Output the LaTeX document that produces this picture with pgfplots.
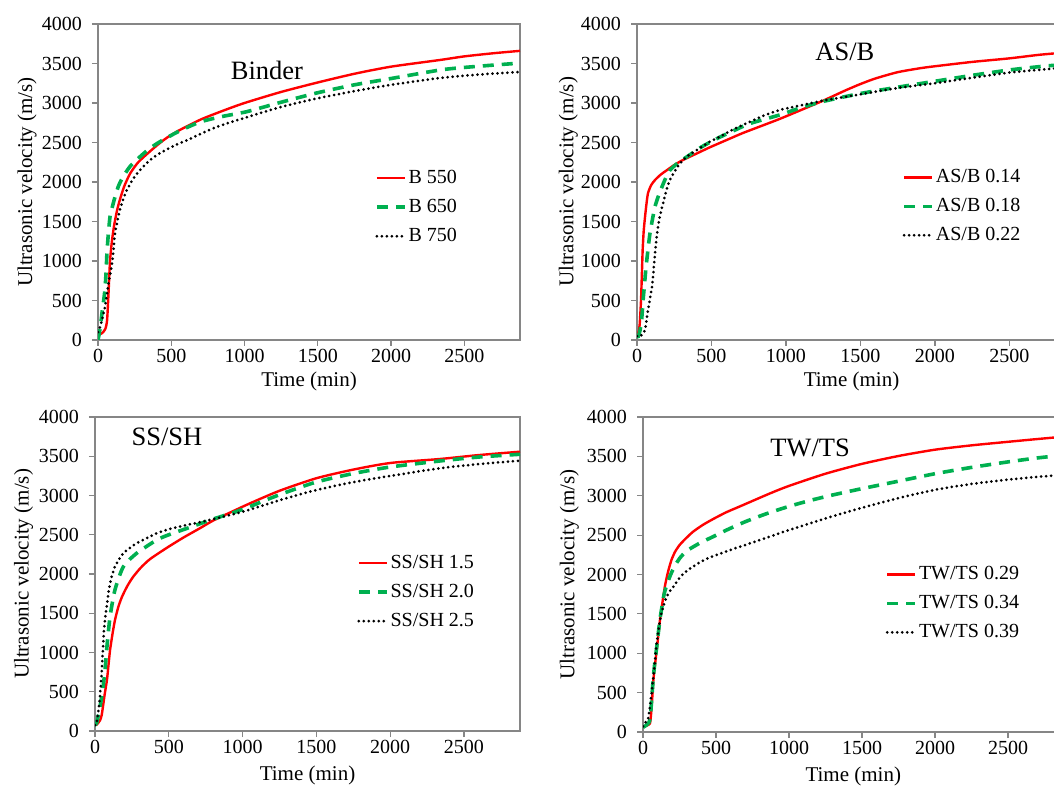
\documentclass[border=0pt]{standalone}
\usepackage{pgfplots}
\pgfplotsset{compat=1.18}
\usepackage{fontspec}
\setmainfont{Liberation Serif}
\definecolor{exred}{RGB}{255,0,0}
\definecolor{exgreen}{RGB}{0,176,80}
\definecolor{axgray}{RGB}{134,134,134}
\newcommand\fs{\fontsize{20}{24}\selectfont}
\newcommand\fl{\fontsize{21}{25}\selectfont}
\newcommand\ft{\fontsize{26.5}{30}\selectfont}
\pgfplotsset{
 panel/.style={
  scale only axis, height=316pt, xmin=0, xmax=2880, ymin=0, ymax=4000,
  xtick={0,500,...,2500}, ytick={0,500,...,4000},
  axis line style={draw=axgray, line width=1.3pt},
  every tick/.style={draw=axgray, line width=1.2pt},
  tick align=outside, major tick length=6pt, tick pos=left,
  tick label style={font=\fs},
  xticklabel={\pgfmathprintnumber[assume math mode=true,1000 sep={}]{\tick}},
  yticklabel={\pgfmathprintnumber[assume math mode=true,1000 sep={}]{\tick}},
  yticklabel style={anchor=east, inner sep=0pt, xshift=-10pt},
  label style={font=\fl},
  /pgf/number format/assume math mode=true,
  /pgf/number format/1000 sep={},
  xlabel={Time (min)}, ylabel={Ultrasonic velocity (m/s)},
  legend cell align=left,
  legend style={draw=none, fill=none, font=\fs, inner sep=0pt, row sep=9pt,
     anchor=north west,
     nodes={inner ysep=0pt, inner xsep=2pt, text height=15pt, text depth=5pt}},
  legend image code/.code={\draw[##1] (0pt,0pt) -- (28pt,0pt);},
 },
 r/.style={color=exred, line width=2.4pt, line join=round, smooth, tension=0.4},
 g/.style={color=exgreen, line width=3.6pt, dash pattern=on 11pt off 8pt, smooth, tension=0.4},
 k/.style={color=black, line width=3pt, line cap=round, dash pattern=on 0pt off 5pt, smooth, tension=0.4},
}
\begin{document}
\begin{tikzpicture}
\useasboundingbox (0pt,0pt) rectangle (1054pt,787pt);
% ---------------- Panel 1: Binder
\begin{axis}[panel, at={(98pt,447pt)}, width=422pt,
  xlabel style={at={(axis description cs:0.5,-0.13)}, anchor=center},
  ylabel style={at={(axis description cs:-0.168,0.5)}, anchor=center},
  legend style={at={(0.656,0.544)}}]
\addplot[r] coordinates {(10,70) (30,90) (50,140) (62,250) (72,600) (82,1000) (95,1250) (110,1450) (130,1640) (150,1780) (180,1950) (220,2110) (270,2240) (320,2330) (400,2460) (470,2560) (550,2650) (700,2790) (850,2900) (1000,3000) (1250,3140) (1500,3260) (1750,3370) (2000,3460) (2336,3545) (2500,3590) (2700,3630) (2880,3660)};
\addlegendentry{B 550}
\addplot[g] coordinates {(0,0) (15,150) (27,340) (40,520) (48,650) (55,850) (61,1100) (70,1330) (82,1560) (100,1700) (116,1810) (140,1950) (171,2065) (220,2200) (287,2320) (350,2420) (423,2510) (550,2640) (697,2760) (850,2830) (1015,2890) (1250,3010) (1500,3130) (1750,3230) (2000,3310) (2336,3418) (2500,3450) (2700,3480) (2880,3505)};
\addlegendentry{B 650}
\addplot[k] coordinates {(0,100) (15,170) (27,250) (48,420) (68,670) (82,820) (96,975) (106,1150) (116,1350) (132,1500) (150,1650) (175,1800) (198,1900) (240,2040) (287,2150) (350,2270) (423,2365) (520,2460) (608,2530) (800,2690) (1015,2820) (1250,2950) (1500,3060) (1750,3150) (2000,3230) (2336,3317) (2600,3360) (2880,3393)};
\addlegendentry{B 750}
\node[font=\ft] at (axis cs:1153,3418) {Binder};
\end{axis}
% ---------------- Panel 2: AS/B
\begin{axis}[panel, at={(637pt,447pt)}, width=429pt,
  xlabel style={at={(axis description cs:0.5,-0.13)}, anchor=center},
  ylabel style={at={(axis description cs:-0.160,0.5)}, anchor=center},
  legend style={at={(0.618,0.547)}}]
\addplot[r] coordinates {(0,70) (9,89) (18,200) (27,506) (33,850) (38,1140) (45,1380) (54,1560) (64,1730) (74,1860) (95,1960) (121,2025) (160,2095) (201,2150) (250,2215) (310,2280) (400,2360) (490,2440) (600,2530) (711,2620) (850,2720) (960,2800) (1100,2910) (1250,3030) (1400,3160) (1500,3240) (1600,3310) (1750,3390) (1900,3440) (2000,3465) (2250,3520) (2500,3565) (2700,3610) (2880,3640)};
\addlegendentry{AS/B 0.14}
\addplot[g] coordinates {(0,40) (9,45) (20,120) (31,253) (41,506) (51,720) (61,928) (74,1150) (87,1350) (104,1530) (121,1690) (145,1830) (168,1940) (195,2060) (221,2150) (280,2250) (336,2320) (430,2440) (537,2550) (650,2650) (758,2740) (960,2850) (1100,2940) (1250,3020) (1500,3120) (1750,3200) (2000,3275) (2250,3350) (2500,3418) (2700,3460) (2880,3490)};
\addlegendentry{AS/B 0.18}
\addplot[k] coordinates {(0,50) (15,40) (30,60) (54,127) (64,250) (74,380) (88,530) (101,675) (111,880) (121,1100) (131,1280) (141,1435) (158,1600) (175,1730) (198,1900) (221,2025) (255,2140) (289,2235) (340,2330) (403,2405) (480,2500) (557,2575) (650,2670) (738,2745) (850,2840) (960,2912) (1100,2970) (1250,3030) (1500,3110) (1750,3190) (2000,3250) (2250,3320) (2500,3385) (2700,3420) (2880,3450)};
\addlegendentry{AS/B 0.22}
\node[font=\ft] at (axis cs:1396,3646) {AS/B};
\end{axis}
% ---------------- Panel 3: SS/SH
\begin{axis}[panel, at={(95pt,56pt)}, width=425pt, height=314pt,
  xlabel style={at={(axis description cs:0.5,-0.14)}, anchor=center},
  ylabel style={at={(axis description cs:-0.168,0.5)}, anchor=center},
  legend style={at={(0.616,0.567)}}]
\addplot[r] coordinates {(0,80) (11,80) (34,135) (45,200) (54,310) (65,460) (81,650) (92,850) (102,1030) (118,1230) (135,1410) (158,1580) (183,1710) (220,1850) (257,1960) (310,2080) (373,2190) (488,2335) (600,2465) (711,2583) (800,2680) (935,2800) (1050,2900) (1250,3060) (1500,3220) (1750,3330) (2000,3414) (2337,3465) (2600,3515) (2880,3558)};
\addlegendentry{SS/SH 1.5}
\addplot[g] coordinates {(0,90) (11,98) (34,310) (52,522) (68,777) (83,1117) (102,1456) (135,1796) (192,2093) (282,2264) (418,2433) (500,2500) (621,2580) (711,2640) (800,2700) (935,2780) (1050,2860) (1250,3010) (1500,3172) (1750,3280) (2000,3363) (2337,3440) (2600,3490) (2880,3525)};
\addlegendentry{SS/SH 2.0}
\addplot[k] coordinates {(0,76) (11,100) (29,353) (45,735) (61,1287) (79,1584) (102,1882) (135,2093) (192,2264) (282,2391) (418,2518) (500,2570) (621,2624) (711,2660) (800,2700) (935,2760) (1050,2820) (1250,2940) (1500,3070) (1750,3170) (2000,3249) (2337,3347) (2600,3400) (2880,3444)};
\addlegendentry{SS/SH 2.5}
\node[font=\ft] at (axis cs:488,3745) {SS/SH};
\end{axis}
% ---------------- Panel 4: TW/TS
\begin{axis}[panel, at={(643pt,55pt)}, width=420.5pt, height=315pt,
  xlabel style={at={(axis description cs:0.5,-0.14)}, anchor=center},
  ylabel style={at={(axis description cs:-0.175,0.5)}, anchor=center},
  legend style={at={(0.576,0.533)}}]
\addplot[r] coordinates {(0,60) (5,67) (25,80) (40,95) (48,110) (54,200) (59,322) (65,480) (71,660) (82,850) (94,1041) (105,1230) (116,1420) (128,1580) (139,1718) (150,1850) (162,1960) (178,2080) (196,2190) (220,2290) (253,2380) (300,2470) (344,2545) (410,2630) (481,2705) (570,2790) (664,2865) (870,3030) (1000,3125) (1250,3280) (1500,3405) (1750,3505) (2000,3585) (2250,3640) (2500,3685) (2700,3720) (2880,3750)};
\addlegendentry{TW/TS 0.29}
\addplot[g] coordinates {(0,60) (10,70) (25,90) (40,120) (48,160) (55,300) (62,480) (71,700) (82,900) (94,1080) (105,1260) (116,1430) (128,1570) (139,1700) (150,1790) (162,1860) (185,1980) (215,2100) (253,2210) (300,2300) (390,2400) (480,2480) (573,2565) (700,2670) (850,2775) (1000,2865) (1144,2940) (1300,3010) (1486,3085) (1750,3185) (2000,3280) (2250,3360) (2500,3430) (2700,3480) (2880,3515)};
\addlegendentry{TW/TS 0.34}
\addplot[k] coordinates {(0,70) (10,100) (20,130) (35,170) (48,322) (60,520) (71,702) (82,900) (94,1126) (107,1300) (121,1464) (140,1600) (162,1718) (185,1790) (208,1845) (240,1930) (276,2010) (350,2110) (436,2200) (550,2280) (664,2353) (820,2450) (1000,2565) (1144,2650) (1300,2740) (1486,2840) (1750,2970) (2000,3075) (2250,3150) (2500,3205) (2700,3240) (2880,3265)};
\addlegendentry{TW/TS 0.39}
\node[font=\ft] at (axis cs:1144,3607) {TW/TS};
\end{axis}
\end{tikzpicture}
\end{document}
